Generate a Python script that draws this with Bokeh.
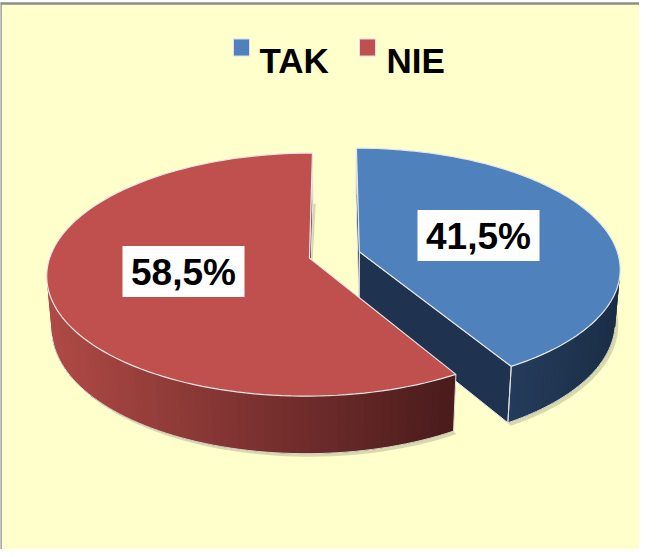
import math
from bokeh.plotting import figure
from bokeh.models import Range1d
from bokeh.core.properties import value
from bokeh.embed import file_html
from bokeh.resources import INLINE

# ---- data ----
categories = ["TAK", "NIE"]
values = [41.5, 58.5]
labels = ["41,5%", "58,5%"]
top_colors = ["#4F81BD", "#C0504D"]

W, H = 639, 549
p = figure(width=W, height=H, output_backend="svg", toolbar_location=None,
           x_range=Range1d(8, 8 + W), y_range=Range1d(8 + H, 8),
           min_border=0, outline_line_color=None)
p.axis.visible = False
p.grid.visible = False
p.background_fill_color = "white"
p.border_fill_color = "white"

# frame
p.quad(left=[9], right=[700], top=[11], bottom=[600], fill_color="#FFFFCC",
       line_color=None)
p.segment(x0=[8], y0=[10], x1=[8], y1=[600], line_color="#8C8C8C", line_width=2.5)
p.segment(x0=[8], y0=[11], x1=[700], y1=[11], line_color="#8C8C8C", line_width=2.5)

# ---- 3D projection ----
phi = math.radians(29)
S, C = math.sin(phi), math.cos(phi)
L = 6.57
K = 1672.0
OX, OY = 342.0, 314.5
T = 0.23
EXP = 0.10


def proj(u, v, z):
    d = v * C + L - z * S
    return OX + K * u / d, OY - K * (v * S + z * C) / d


def shade(c1, c2, f):
    a = [int(c1[i:i + 2], 16) for i in (1, 3, 5)]
    b = [int(c2[i:i + 2], 16) for i in (1, 3, 5)]
    return "#%02x%02x%02x" % tuple(int(round(a[i] + (b[i] - a[i]) * f)) for i in range(3))


def area(xs, ys):
    s = 0.0
    n = len(xs)
    for i in range(n):
        j = (i + 1) % n
        s += xs[i] * ys[j] - xs[j] * ys[i]
    return s / 2


side_cols = [("#243C5C", "#1C2E46"), ("#B04A46", "#4C1C1C")]
cut_cols = ["#1F3350", "#5A2322"]

total = sum(values)
slices = []
start = 90.0
for i, v_ in enumerate(values):
    sweep = v_ / total * 360.0
    a0, a1 = start - sweep, start
    slices.append((a0, a1))
    start = a0

for i, (a0, a1) in enumerate(slices):
    mid = math.radians((a0 + a1) / 2)
    cu, cv = EXP * math.cos(mid), EXP * math.sin(mid)
    N = 120
    angs = [math.radians(a0 + (a1 - a0) * k / N) for k in range(N + 1)]
    rim = [(cu + math.cos(a), cv + math.sin(a)) for a in angs]

    # soft shadow under bottom rim
    bx, by = zip(*[proj(u, v, 0) for (u, v) in rim])
    cx0, cy0 = proj(cu, cv, 0)
    p.patch(x=[cx0] + [x + 3 for x in bx], y=[cy0] + [y + 3 for y in by],
            fill_color="#A8A888", fill_alpha=0.45, line_color=None)

    # outer side strips (gradient), overlapping to hide seams
    vis = []
    for k in range(N):
        (u1, v1), (u2, v2) = rim[k], rim[k + 1]
        q = [proj(u1, v1, 0), proj(u2, v2, 0), proj(u2, v2, T), proj(u1, v1, T)]
        if area([a[0] for a in q], [a[1] for a in q]) < 0:
            vis.append(k)
    if vis:
        mids = [proj(*rim[k], 0)[0] for k in vis]
        lo, hi = min(mids), max(mids)
        order = sorted(range(len(vis)), key=lambda j: mids[j])
        for j in order:
            k = vis[j]
            k2 = min(k + 2, N) if (k + 1) in vis else k + 1
            k1 = max(k - 1, 0) if (k - 1) in vis else k
            pts = rim[k1:k2 + 1]
            bot = [proj(u, v, 0) for (u, v) in pts]
            top = [proj(u, v, T) for (u, v) in pts][::-1]
            f = (mids[j] - lo) / (hi - lo) if hi > lo else 0
            col = shade(side_cols[i][0], side_cols[i][1], f)
            p.patch(x=[a[0] for a in bot + top], y=[a[1] for a in bot + top],
                    fill_color=col, line_color=None)
        # thin light outline along the visible bottom rim
        bpts = [proj(*rim[k], 0) for k in vis] + [proj(*rim[vis[-1] + 1], 0)]
        p.line(x=[a[0] for a in bpts], y=[a[1] for a in bpts], line_color="#D8D8D0",
               line_width=1)

    # cut faces
    r0, r1 = rim[0], rim[-1]
    faces = [
        [proj(cu, cv, 0), proj(r0[0], r0[1], 0), proj(r0[0], r0[1], T), proj(cu, cv, T)],
        [proj(r1[0], r1[1], 0), proj(cu, cv, 0), proj(cu, cv, T), proj(r1[0], r1[1], T)],
    ]
    for fpts in faces:
        xs = [q[0] for q in fpts]
        ys = [q[1] for q in fpts]
        if area(xs, ys) < 0:
            p.patch(x=xs, y=ys, fill_color=cut_cols[i], line_color="#E6E6E6",
                    line_width=1)

    # outer vertical edges of the visible side
    for r in (r0, r1):
        e0, e1 = proj(r[0], r[1], 0), proj(r[0], r[1], T)
        p.line(x=[e0[0], e1[0]], y=[e0[1], e1[1]], line_color="#E0E0E0", line_width=1)

    # top face
    tx, ty = zip(*[proj(u, v, T) for (u, v) in rim])
    ax, ay = proj(cu, cv, T)
    p.patch(x=[ax] + list(tx), y=[ay] + list(ty), fill_color=top_colors[i],
            line_color="#E6E6E6", line_width=1.2)

# ---- labels ----
lab_xy = [(486, 243), (191, 279)]
for (lx, ly), t in zip(lab_xy, labels):
    p.rect(x=[lx], y=[ly], width=122, height=51, fill_color="white", line_color=None)
    p.text(x=[lx], y=[ly + 1], text=[t], text_align="center", text_baseline="middle",
           text_font=value("Liberation Sans"), text_font_style="bold",
           text_font_size="37px", text_color="black")

# ---- legend ----
leg_sq_x = [249, 375]
leg_txt_x = [267, 394]
for sx, tx_, col, cat in zip(leg_sq_x, leg_txt_x, top_colors, categories):
    p.rect(x=[sx], y=[55], width=16, height=17, fill_color=col, line_color="#DDDDEE",
           line_width=1)
    p.text(x=[tx_], y=[68], text=[cat], text_align="left", text_baseline="alphabetic",
           text_font=value("Liberation Sans"), text_font_style="bold",
           text_font_size="35px", text_color="black")

open("out.html", "w").write(file_html(p, INLINE))
